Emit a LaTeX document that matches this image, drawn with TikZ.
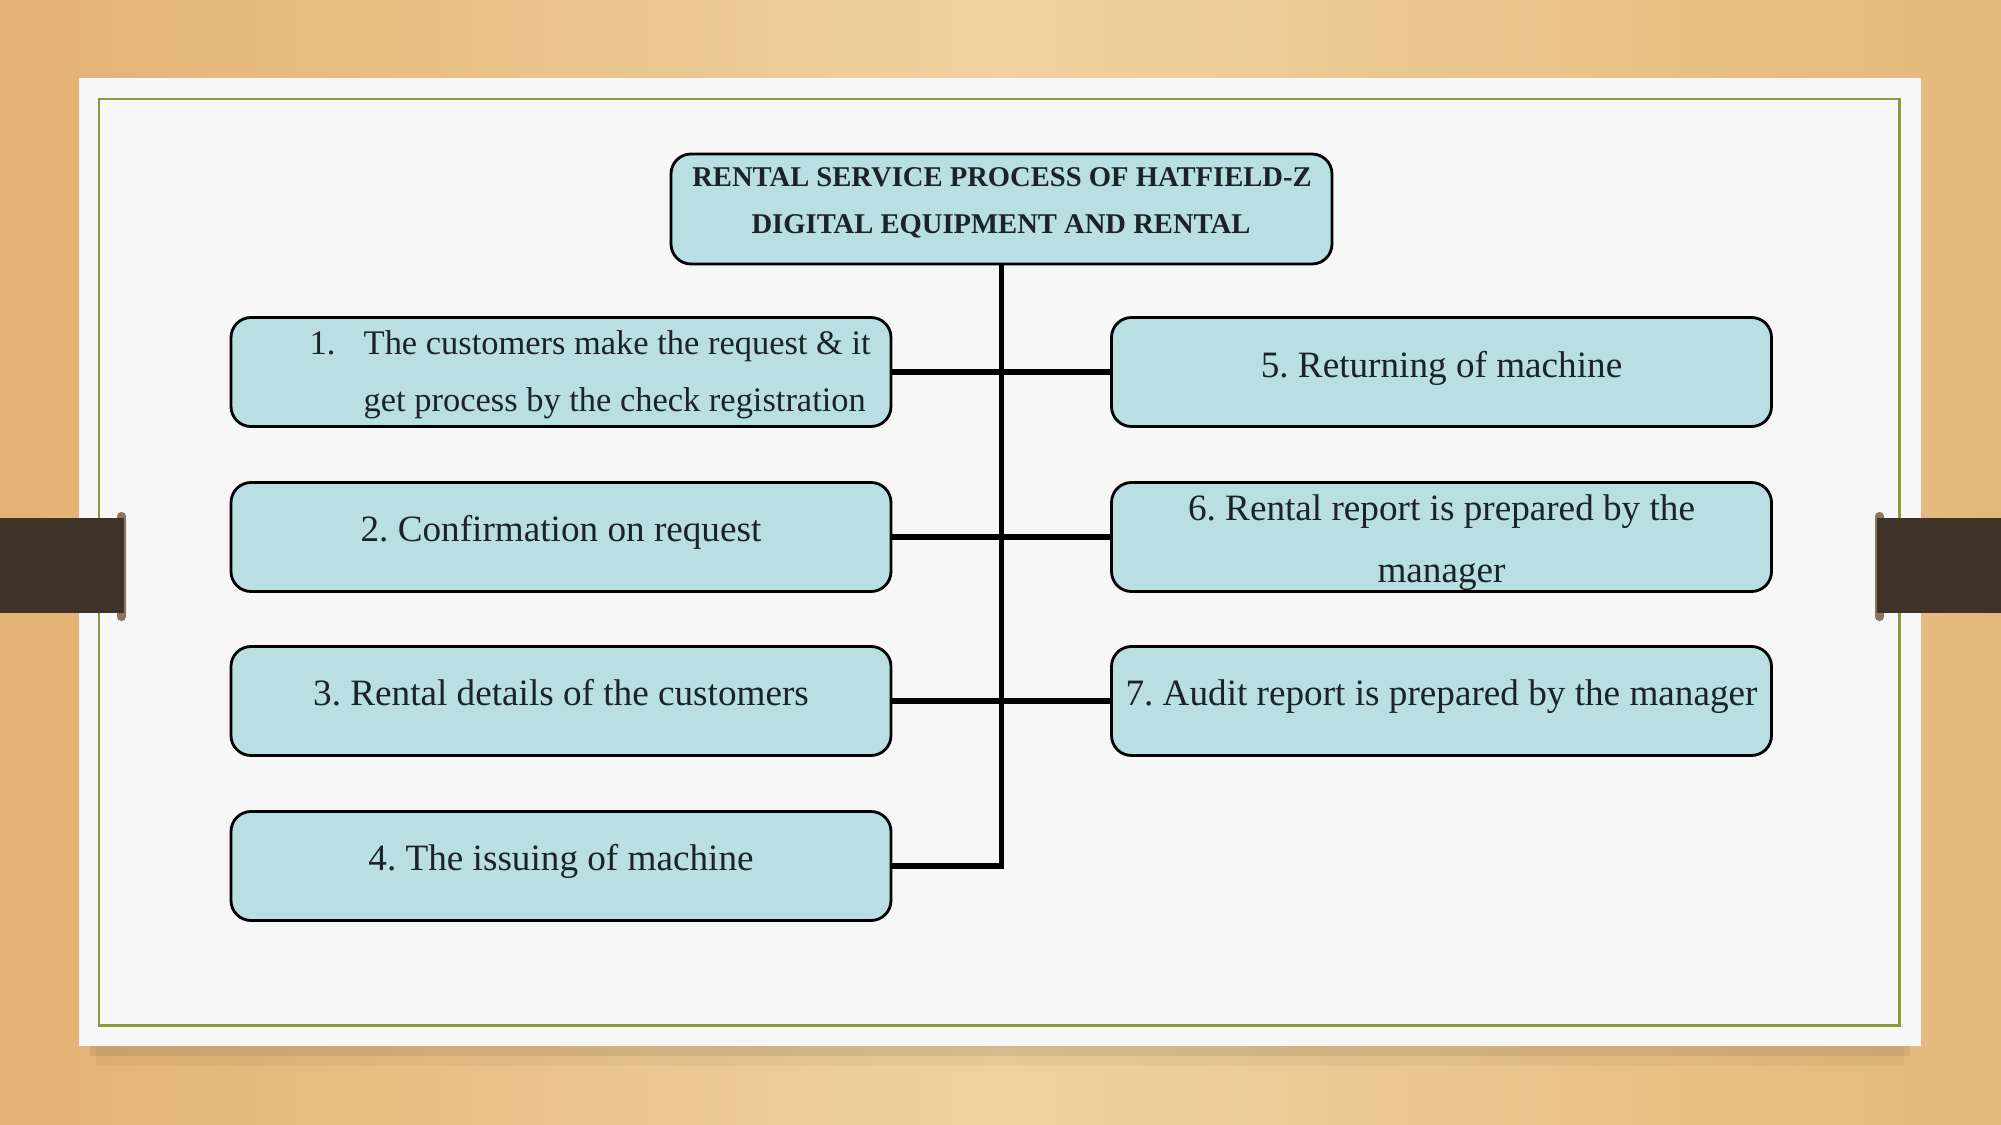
\documentclass[tikz,border=0pt]{standalone}
\usepackage{fontspec}
\setmainfont{Liberation Serif}
\frenchspacing
\definecolor{woodL}{HTML}{E3B274}
\definecolor{woodM}{HTML}{EFD2A0}
\definecolor{woodR}{HTML}{E4B87A}
\definecolor{cardw}{HTML}{F7F7F7}
\definecolor{olive}{HTML}{8A9B3B}
\definecolor{bandc}{HTML}{3E3229}
\definecolor{tabc}{HTML}{8A7560}
\definecolor{boxfill}{HTML}{B9DFE2}
\definecolor{txtc}{HTML}{1A2328}
\tikzset{
  procbox/.style={draw=black, line width=0.8pt, fill=boxfill, rounded corners=2mm,
    minimum width=66mm, minimum height=10.9mm, inner sep=0pt},
  conn/.style={draw=black, line width=1.6pt, line join=miter},
  txt/.style={font=\fontsize{10.58}{12}\selectfont, text=txtc, inner sep=0pt, anchor=base},
  txtone/.style={font=\fontsize{9.8}{11}\selectfont, text=txtc, inner sep=0pt, anchor=base west},
  ttl/.style={font=\fontsize{8.14}{10}\selectfont\bfseries, text=txtc, inner sep=0pt, anchor=base}
}
\begin{document}
\begin{tikzpicture}[x=0.1mm,y=-0.1mm]
\useasboundingbox (0,0) rectangle (2001,1125);
% background
\shade[left color=woodL, right color=woodR, middle color=woodM] (0,0) rectangle (2001,1125);
% card shadow and card
\fill[black, opacity=0.04] (96,1044) rectangle (1904,1066);
\fill[black, opacity=0.07] (90,1044) rectangle (1910,1056);
\fill[cardw] (79,78) rectangle (1921,1046);
\draw[olive, line width=0.85pt] (99,99) rectangle (1899,1025);
% side bands
\fill[tabc, rounded corners=1.2] (117,512) rectangle (126,621);
\fill[bandc] (0,518) rectangle (124,613);
\fill[tabc, rounded corners=1.2] (1875,512) rectangle (1884,621);
\fill[bandc] (1877,518) rectangle (2001,613);
% boxes
\node[procbox, minimum width=66.1mm, minimum height=11mm] (title) at (1001.5,209) {};
\node[procbox] (b1) at (561,372) {};
\node[procbox] (b2) at (561,537) {};
\node[procbox] (b3) at (561,701) {};
\node[procbox] (b4) at (561,866) {};
\node[procbox] (b5) at (1441.5,372) {};
\node[procbox] (b6) at (1441.5,537) {};
\node[procbox] (b7) at (1441.5,701) {};
% connectors
\draw[conn] (title.south) -- (title.south |- b4.east) -- (b4.east);
\draw[conn] (b1.east) -- (b5.west);
\draw[conn] (b2.east) -- (b6.west);
\draw[conn] (b3.east) -- (b7.west);
% texts
\node[ttl] (t0a) at (1002,187) {RENTAL SERVICE PROCESS OF HATFIELD-Z};
\node[ttl] (t0b) at (1001,234) {DIGITAL EQUIPMENT AND RENTAL};
\node[txtone] (t1n) at (309,354) {1.};
\node[txtone] (t1a) at (363,354) {The customers make the request \& it};
\node[txtone] (t1b) at (363,411) {get process by the check registration};
\node[txt] (t2) at (561,541) {2. Confirmation on request};
\node[txt] (t3) at (561,705) {3. Rental details of the customers};
\node[txt] (t4) at (561,870) {4. The issuing of machine};
\node[txt] (t5) at (1441.5,377) {5. Returning of machine};
\node[txt] (t6a) at (1441.5,520) {6. Rental report is prepared by the};
\node[txt] (t6b) at (1441.5,582) {manager};
\node[txt] (t7) at (1441.5,705) {7. Audit report is prepared by the manager};
\end{tikzpicture}
\end{document}
